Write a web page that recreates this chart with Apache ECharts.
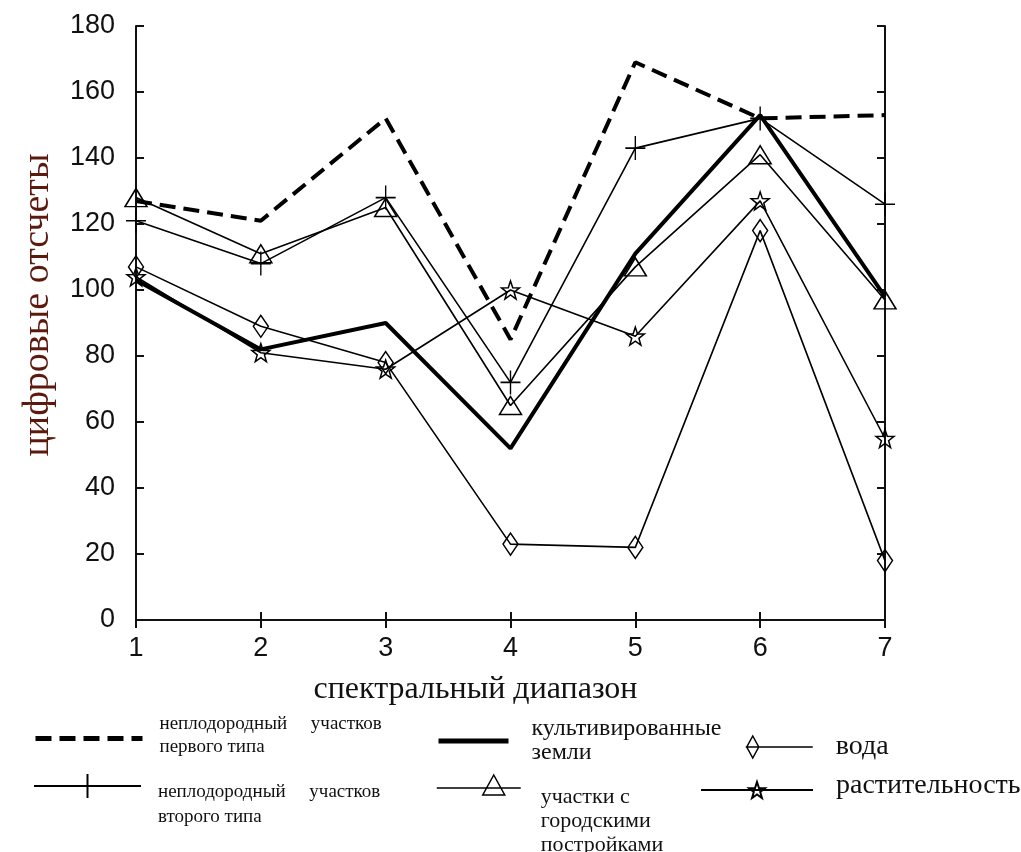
<!DOCTYPE html>
<html>
<head>
<meta charset="utf-8">
<title>спектральный диапазон</title>
<script src="https://cdn.jsdelivr.net/npm/echarts@6.0.0/dist/echarts.min.js"></script>
<style>
  html, body { margin: 0; padding: 0; background: #fff; }
  #chart { width: 1021px; height: 852px; }
</style>
</head>
<body>
<div id="chart"></div>
<script>
// спектральные диапазоны 1..7
var bands = [1, 2, 3, 4, 5, 6, 7];
var yTicks = [0, 20, 40, 60, 80, 100, 120, 140, 160, 180];

// значения
var firstType  = [127, 121, 152, 85, 169, 152, 153];
var secondType = [121, 108, 128, 72, 143, 152, 126];
var cultivated = [103, 82, 90, 52, 111, 153, 98];
var urban      = [128, 111, 125, 65, 107, 141, 97];
var water      = [107, 89, 78, 23, 22, 118, 18];
var vegetation = [104, 81, 76, 100, 86, 127, 55];

var names = [
    'неплодородный участков первого типа',
    'неплодородный участков второго типа',
    'культивированные земли',
    'участки с городскими постройками',
    'вода',
    'растительность'
];
var legendLines = {};
legendLines[names[0]] = ['неплодородный     участков', 'первого типа'];
legendLines[names[1]] = ['неплодородный     участков', 'второго типа'];
legendLines[names[2]] = ['культивированные', 'земли'];
legendLines[names[3]] = ['участки с', 'городскими', 'постройками'];
legendLines[names[4]] = ['вода'];
legendLines[names[5]] = ['растительность'];

var SERIF = '"Liberation Serif", "DejaVu Serif", serif';
var SANS = '"Liberation Sans", Arial, sans-serif';

var plusPath = 'path://M0,-10L0,10M-10,0L10,0';
var starPath = 'path://M0,-10L2.35,-3.24L9.51,-3.09L3.8,1.24L5.88,8.09L0,4L-5.88,8.09L-3.8,1.24L-9.51,-3.09L-2.35,-3.24Z';
// значки легенды, где маркер стоит не по центру линии
var waterIcon = 'path://M7,0L13,11L7,22L1,11ZM0,11L67,11';
var urbanIcon = 'path://M0,13L84,13M57,0L68,20L46,20Z';

function pairs(arr) {
    var out = [];
    for (var i = 0; i < arr.length; i++) {
        out.push([bands[i], arr[i]]);
    }
    return out;
}

function hollow() {
    return { color: 'rgba(255,255,255,0)', borderColor: '#000', borderWidth: 1.5 };
}

// одна легенда на серию; spaceTop/spaceBottom сдвигают текст относительно значка
function makeLegend(item, left, top, itemWidth, itemHeight, gapLeft, fontSize, lineHeight, spaceTop, spaceBottom, lineWidth) {
    var lg = {
        data: [item],
        left: left,
        top: top,
        orient: 'vertical',
        padding: 0,
        itemWidth: itemWidth,
        itemHeight: itemHeight,
        selectedMode: false,
        formatter: function (n) {
            var rows = legendLines[n].map(function (s) { return '{t|' + s + '}'; });
            if (spaceTop) rows.unshift('{s| }');
            if (spaceBottom) rows.push('{b| }');
            return rows.join('\n');
        },
        textStyle: {
            padding: [0, 0, 0, gapLeft],
            rich: {
                t: { fontFamily: SERIF, fontSize: fontSize, lineHeight: lineHeight, color: '#111' },
                s: { fontSize: 2, lineHeight: spaceTop || 1 },
                b: { fontSize: 2, lineHeight: spaceBottom || 1 }
            }
        }
    };
    if (lineWidth) {
        lg.lineStyle = { width: lineWidth };
    }
    return lg;
}

var chart = echarts.init(document.getElementById('chart'), null, { renderer: 'canvas' });

var axisLine = { show: true, lineStyle: { color: '#111', width: 2 } };
var axisTick = { show: true, inside: true, length: 8, lineStyle: { color: '#111', width: 2 } };
var noMarker = { opacity: 0 };

var option = {
    animation: false,
    backgroundColor: '#fff',
    grid: { left: 136, right: 136, top: 26, bottom: 232 },
    legend: [
        makeLegend({ name: names[0], itemStyle: noMarker }, 33, 715, 107, 16, 12, 19, 23, 0, 5, 5),
        makeLegend({ name: names[1] }, 33, 760, 107, 30, 12, 19, 25, 38, 0),
        makeLegend({ name: names[2], itemStyle: noMarker }, 436, 717, 70, 16, 18, 24, 24, 0, 0, 5),
        makeLegend({ name: names[3], icon: urbanIcon, itemStyle: hollow() }, 436, 748, 84, 25, 15, 22, 24, 72, 0),
        makeLegend({ name: names[4], icon: waterIcon, itemStyle: hollow() }, 745, 733, 67, 24, 18, 28, 24, 0, 0),
        makeLegend({ name: names[5] }, 700, 772, 112, 20, 18, 28, 24, 0, 8)
    ],
    xAxis: [
        {
            type: 'value',
            min: 1,
            max: 7,
            interval: 1,
            name: 'спектральный диапазон',
            nameLocation: 'middle',
            nameGap: 54,
            nameTextStyle: { fontFamily: SERIF, fontSize: 32, color: '#111', padding: [0, 70, 0, 0] },
            axisLine: axisLine,
            axisTick: axisTick,
            splitLine: { show: false },
            axisLabel: { fontFamily: SANS, fontSize: 27, color: '#111', margin: 15 }
        },
        {
            type: 'value',
            position: 'top',
            min: 1,
            max: 7,
            interval: 1,
            axisLine: axisLine,
            axisTick: axisTick,
            splitLine: { show: false },
            axisLabel: { show: false }
        }
    ],
    yAxis: [
        {
            type: 'value',
            min: yTicks[0],
            max: yTicks[yTicks.length - 1],
            interval: 20,
            name: 'цифровые отсчеты',
            nameLocation: 'middle',
            nameRotate: 90,
            nameGap: 79,
            nameTextStyle: { fontFamily: SERIF, fontSize: 38, color: '#5c1a0e', padding: [0, 0, 0, 36] },
            axisLine: axisLine,
            axisTick: axisTick,
            splitLine: { show: false },
            axisLabel: { fontFamily: SANS, fontSize: 27, color: '#111', margin: 21 }
        },
        {
            type: 'value',
            position: 'right',
            min: yTicks[0],
            max: yTicks[yTicks.length - 1],
            interval: 20,
            axisLine: axisLine,
            axisTick: axisTick,
            splitLine: { show: false },
            axisLabel: { show: false }
        }
    ],
    series: [
        {
            name: names[0],
            type: 'line',
            data: pairs(firstType),
            symbol: 'none',
            lineStyle: { color: '#000', width: 4, type: [16, 8] },
            itemStyle: { color: '#000' },
            emphasis: { disabled: true }
        },
        {
            name: names[1],
            type: 'line',
            data: pairs(secondType),
            symbol: plusPath,
            symbolSize: [20, 24],
            lineStyle: { color: '#000', width: 1.6 },
            itemStyle: hollow(),
            emphasis: { disabled: true }
        },
        {
            name: names[2],
            type: 'line',
            data: pairs(cultivated),
            symbol: 'none',
            lineStyle: { color: '#000', width: 4 },
            itemStyle: { color: '#000' },
            emphasis: { disabled: true }
        },
        {
            name: names[3],
            type: 'line',
            data: pairs(urban),
            symbol: 'triangle',
            symbolSize: [22, 18],
            lineStyle: { color: '#000', width: 1.6 },
            itemStyle: hollow(),
            emphasis: { disabled: true }
        },
        {
            name: names[4],
            type: 'line',
            data: pairs(water),
            symbol: 'diamond',
            symbolSize: [15, 22],
            lineStyle: { color: '#000', width: 1.6 },
            itemStyle: hollow(),
            emphasis: { disabled: true }
        },
        {
            name: names[5],
            type: 'line',
            data: pairs(vegetation),
            symbol: starPath,
            symbolSize: 18,
            lineStyle: { color: '#000', width: 1.6 },
            itemStyle: hollow(),
            emphasis: { disabled: true }
        }
    ]
};

chart.setOption(option);
</script>
</body>
</html>
